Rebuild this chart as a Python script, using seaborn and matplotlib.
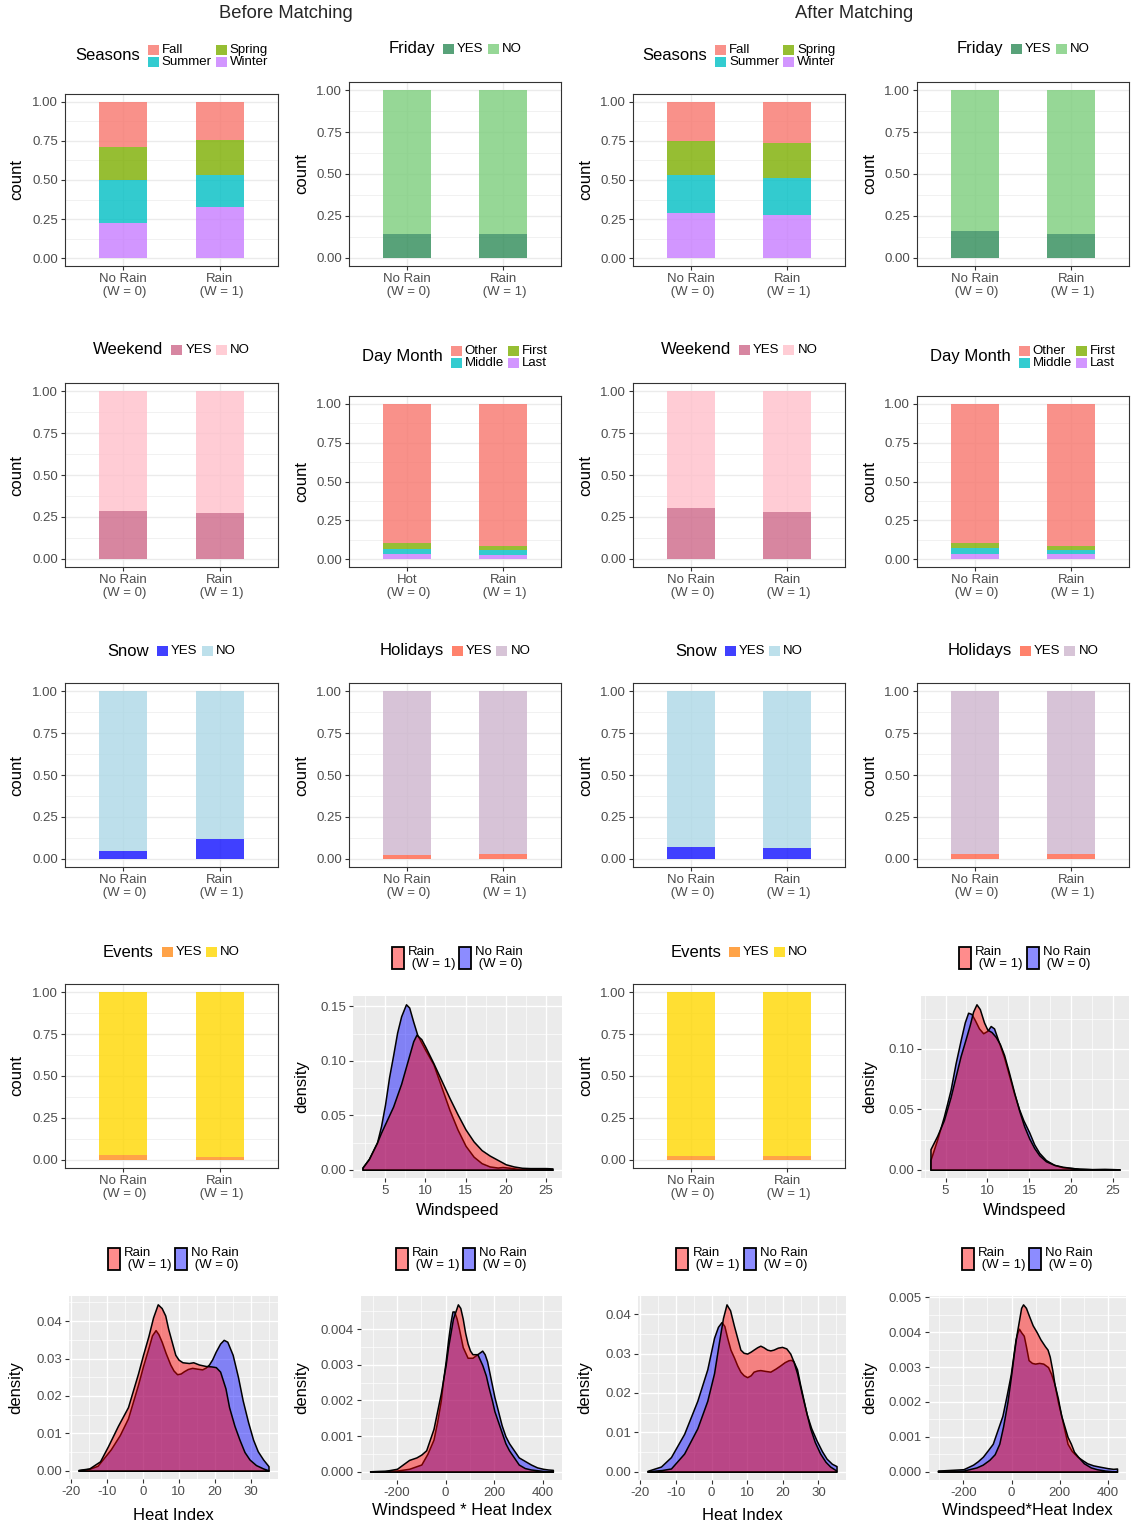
import numpy as np
import matplotlib
matplotlib.use("Agg")
import matplotlib.pyplot as plt
import matplotlib.colors as mcolors
from matplotlib.patches import Rectangle
from matplotlib.offsetbox import AnchoredOffsetbox, HPacker, VPacker, TextArea, DrawingArea
from matplotlib.ticker import FixedLocator, FormatStrFormatter
import seaborn as sns

sns.set_theme(style="white")
plt.rcParams["font.family"] = ["Liberation Sans", "DejaVu Sans"]

W, H, DPI = 1131, 1528, 100
PT = 72.0 / DPI  # points per pixel

# ---------------------------------------------------------------- data
groups = ["No Rain\n (W = 0)", "Rain\n (W = 1)"]
groups_hot = ["Hot\n (W = 0)", "Rain\n (W = 1)"]
yes_no = ["YES", "NO"]

season_levels = ["Fall", "Spring", "Summer", "Winter"]
seasons_before = [[0.289, 0.242], [0.210, 0.225], [0.274, 0.205], [0.227, 0.328]]
seasons_after = [[0.248, 0.261], [0.221, 0.229], [0.242, 0.234], [0.289, 0.276]]

friday_before = [[0.143, 0.143], [0.857, 0.857]]
friday_after = [[0.157, 0.142], [0.843, 0.858]]

weekend_before = [[0.287, 0.275], [0.713, 0.725]]
weekend_after = [[0.300, 0.277], [0.700, 0.723]]

daymonth_levels = ["Other", "First", "Middle", "Last"]
daymonth_before = [[0.897, 0.912], [0.034, 0.030], [0.035, 0.028], [0.034, 0.030]]
daymonth_after = [[0.895, 0.912], [0.034, 0.030], [0.035, 0.026], [0.036, 0.032]]

snow_before = [[0.048, 0.116], [0.952, 0.884]]
snow_after = [[0.068, 0.065], [0.932, 0.935]]

holidays_before = [[0.024, 0.027], [0.976, 0.973]]
holidays_after = [[0.025, 0.025], [0.975, 0.975]]

events_before = [[0.027, 0.018], [0.973, 0.982]]
events_after = [[0.022, 0.020], [0.978, 0.980]]

# density curves, Windspeed (before)
ws_b_x_rain = [2.2, 3.0, 4.0, 4.5, 5.0, 5.5, 6.0, 7.0, 8.0, 8.5, 8.9, 9.5, 10.0, 11.0, 12.0, 13.0,
               14.0, 15.0, 16.0, 17.0, 18.0, 19.0, 20.0, 21.0, 22.0, 23.0, 24.0, 25.0, 25.8]
ws_b_y_rain = [0.002, 0.010, 0.025, 0.034, 0.042, 0.050, 0.058, 0.079, 0.105, 0.118, 0.124, 0.120,
               0.113, 0.098, 0.082, 0.066, 0.051, 0.037, 0.026, 0.018, 0.013, 0.009, 0.005, 0.003,
               0.0018, 0.0015, 0.0015, 0.0015, 0.0012]
ws_b_x_norain = [2.2, 3.0, 4.0, 4.5, 5.0, 5.5, 6.0, 6.5, 7.0, 7.6, 8.0, 8.5, 9.0, 10.0, 11.0, 12.0,
                 13.0, 14.0, 15.0, 16.0, 17.0, 18.0, 19.0, 19.6, 20.5, 21.5, 22.5, 24.0, 25.8]
ws_b_y_norain = [0.002, 0.010, 0.025, 0.040, 0.060, 0.085, 0.105, 0.126, 0.141, 0.152, 0.149, 0.136,
                 0.124, 0.110, 0.097, 0.076, 0.055, 0.037, 0.022, 0.012, 0.006, 0.003, 0.002, 0.0025,
                 0.0018, 0.0008, 0.0003, 0.0001, 0.0]

# Windspeed (after)
ws_a_x_rain = [3.2, 4.0, 4.8, 5.6, 6.2, 6.8, 7.4, 7.9, 8.3, 8.7, 9.1, 9.6, 10.0, 10.5, 11.0, 11.5,
               12.0, 12.6, 13.2, 13.8, 14.4, 15.0, 15.6, 16.2, 17.0, 18.0, 19.0, 20.0, 21.0, 22.5,
               24.0, 25.0, 25.8]
ws_a_y_rain = [0.017, 0.028, 0.041, 0.060, 0.077, 0.094, 0.108, 0.120, 0.131, 0.137, 0.133, 0.122,
               0.116, 0.114, 0.110, 0.104, 0.095, 0.080, 0.064, 0.049, 0.036, 0.026, 0.018, 0.012,
               0.007, 0.004, 0.0025, 0.0015, 0.0008, 0.0004, 0.0004, 0.0004, 0.0003]
ws_a_x_norain = [3.2, 4.0, 4.8, 5.6, 6.2, 6.8, 7.3, 7.7, 8.1, 8.5, 9.0, 9.5, 10.0, 10.4, 10.8, 11.3,
                 12.0, 12.6, 13.2, 13.8, 14.3, 15.0, 15.6, 16.2, 17.0, 18.0, 19.0, 20.0, 21.0, 22.5,
                 24.0, 25.0, 25.8]
ws_a_y_norain = [0.008, 0.025, 0.044, 0.066, 0.088, 0.107, 0.122, 0.130, 0.129, 0.124, 0.117, 0.113,
                 0.115, 0.119, 0.117, 0.107, 0.093, 0.078, 0.063, 0.050, 0.041, 0.031, 0.021, 0.014,
                 0.008, 0.004, 0.002, 0.0015, 0.0008, 0.0005, 0.0007, 0.0005, 0.0003]

# Heat Index (before)
hi_b_x_rain = [-18, -15, -12, -9.8, -7, -4.2, -1.4, 0, 1.5, 2.8, 4.1, 5.2, 6.2, 7.0, 8.0, 9.0, 9.9,
               11.0, 12.8, 14.0, 15.6, 17.5, 19.0, 20.3, 21.5, 23.0, 24.0, 25.5, 26.9, 28.3, 29.7,
               31.5, 33.5, 35.0]
hi_b_y_rain = [0.0002, 0.0006, 0.0025, 0.0065, 0.012, 0.017, 0.026, 0.031, 0.036, 0.041, 0.0445,
               0.0435, 0.0415, 0.038, 0.0345, 0.031, 0.0297, 0.0290, 0.0288, 0.0290, 0.0284, 0.0280,
               0.0279, 0.0277, 0.0265, 0.022, 0.017, 0.012, 0.0083, 0.005, 0.003, 0.0015, 0.0006,
               0.0001]
hi_b_x_norain = [-18, -15, -12.7, -9, -6.5, -4.2, -1.4, 0, 1.5, 2.5, 3.5, 4.3, 5.2, 6.3, 7.6, 8.5,
                 9.5, 10.5, 11.4, 12.5, 13.7, 15.0, 16.5, 17.5, 18.4, 19.3, 20.3, 21.5, 22.5, 23.5,
                 25.0, 26.5, 27.8, 29.3, 30.7, 32.0, 33.5, 35.0]
hi_b_y_norain = [0.0001, 0.0005, 0.0013, 0.0057, 0.0095, 0.014, 0.023, 0.028, 0.0328, 0.0362,
                 0.0376, 0.0365, 0.0345, 0.0315, 0.0284, 0.0268, 0.0258, 0.0260, 0.0266, 0.0272,
                 0.0275, 0.0273, 0.0271, 0.0276, 0.0284, 0.0298, 0.0319, 0.0340, 0.0350, 0.0345,
                 0.031, 0.025, 0.0188, 0.013, 0.0083, 0.0052, 0.003, 0.0012]

# Heat Index (after)
hi_a_x_rain = [-18, -14, -11.4, -7.7, -4, -1.2, 0.7, 2.1, 3.2, 4.2, 5.2, 6.3, 7.2, 8.1, 9.0, 10.0,
               11.0, 11.8, 12.8, 13.7, 14.6, 15.6, 16.5, 17.4, 18.6, 19.8, 21.0, 22.1, 23.0, 24.0,
               25.8, 27.7, 29.0, 30.5, 32.0, 33.3, 35.0]
hi_a_y_rain = [0.0001, 0.0004, 0.0008, 0.0046, 0.011, 0.018, 0.025, 0.033, 0.039, 0.0425, 0.041,
               0.037, 0.034, 0.031, 0.0302, 0.0300, 0.0305, 0.0310, 0.0316, 0.0320, 0.0316, 0.0310,
               0.0308, 0.0310, 0.0315, 0.0317, 0.0313, 0.0300, 0.028, 0.025, 0.018, 0.011, 0.0075,
               0.0046, 0.0025, 0.0013, 0.0003]
hi_a_x_norain = [-18, -14.2, -11.4, -7.7, -4, -1.2, 0.7, 1.8, 2.8, 3.6, 4.4, 5.3, 6.3, 7.2, 8.1,
                 9.0, 10.0, 11.0, 11.8, 12.8, 13.7, 15.0, 16.5, 18.0, 19.3, 20.5, 21.6, 22.3, 23.0,
                 24.0, 24.9, 26.7, 28.0, 29.5, 31.0, 32.3, 33.8, 35.1]
hi_a_y_norain = [0.0002, 0.0013, 0.0037, 0.0096, 0.018, 0.026, 0.034, 0.0368, 0.038, 0.037, 0.034,
                 0.031, 0.029, 0.027, 0.0254, 0.0245, 0.0240, 0.0245, 0.0254, 0.0257, 0.0258, 0.0256,
                 0.0254, 0.0262, 0.0270, 0.0278, 0.0283, 0.0284, 0.028, 0.026, 0.022, 0.0146, 0.011,
                 0.0079, 0.0052, 0.0033, 0.0020, 0.0014]

# Windspeed * Heat Index (before)
wh_b_x_rain = [-310, -250, -200, -150, -120, -100, -80, -65, -50, -35, -20, -10, 0, 10, 20, 30, 40,
               50, 60, 70, 80, 90, 100, 110, 130, 150, 165, 175, 190, 200, 215, 230, 245, 260, 280,
               300, 325, 350, 400, 440]
wh_b_y_rain = [0.00001, 0.00002, 0.00008, 0.00033, 0.0004, 0.00048, 0.0006, 0.0009, 0.0012, 0.0017,
               0.0022, 0.0026, 0.0030, 0.0035, 0.0039, 0.0043, 0.0045, 0.0047, 0.0046, 0.0043,
               0.0039, 0.0036, 0.0034, 0.0033, 0.0033, 0.0030, 0.0027, 0.0024, 0.0020, 0.0017,
               0.0014, 0.0011, 0.0008, 0.0006, 0.0004, 0.0002, 0.0001, 0.00006, 0.00002, 0.0]
wh_b_x_norain = [-310, -250, -200, -150, -100, -75, -50, -35, -20, -10, 0, 10, 20, 28, 35, 45, 55,
                 70, 90, 110, 130, 150, 160, 170, 185, 200, 215, 230, 245, 260, 280, 300, 325, 350,
                 375, 400, 420, 440]
wh_b_y_norain = [0.00001, 0.00002, 0.00003, 0.00008, 0.0002, 0.0005, 0.0009, 0.0014, 0.0020,
                 0.0026, 0.0031, 0.0037, 0.0042, 0.0045, 0.0045, 0.0043, 0.0040, 0.0035, 0.0032,
                 0.0032, 0.0033, 0.0034, 0.0033, 0.0031, 0.0026, 0.0021, 0.0017, 0.0013, 0.0010,
                 0.0008, 0.0006, 0.0004, 0.0003, 0.0002, 0.00012, 0.00008, 0.00006, 0.00005]

# Windspeed * Heat Index (after)
wh_a_x_rain = [-306, -200, -146, -120, -92, -70, -51, -35, -17, -3, 10, 20, 30, 40, 48, 60, 71, 88,
               105, 120, 139, 150, 159, 170, 179, 193, 207, 220, 233, 247, 260, 280, 301, 330, 355,
               390, 423, 439]
wh_a_y_rain = [0.00002, 0.00003, 0.00012, 0.0002, 0.00034, 0.0005, 0.0008, 0.0013, 0.0020, 0.0027,
               0.0034, 0.0039, 0.0043, 0.0047, 0.0048, 0.0047, 0.0045, 0.0042, 0.0040, 0.0038,
               0.0036, 0.0035, 0.0033, 0.0029, 0.0025, 0.0021, 0.0016, 0.0013, 0.0010, 0.0008,
               0.00057, 0.0004, 0.00024, 0.00012, 0.00007, 0.00003, 0.00001, 0.0]
wh_a_x_norain = [-306, -200, -160, -140, -119, -100, -78, -58, -38, -20, -3, 7, 17, 25, 31, 40, 51,
                 60, 71, 85, 98, 115, 132, 152, 165, 179, 193, 207, 220, 233, 250, 274, 295, 315,
                 340, 369, 400, 423, 439]
wh_a_y_norain = [0.00003, 0.00007, 0.0002, 0.0003, 0.00043, 0.0006, 0.0008, 0.0012, 0.0016, 0.0022,
                 0.0028, 0.0033, 0.0038, 0.0040, 0.0041, 0.0040, 0.0039, 0.0036, 0.0032, 0.00312,
                 0.0031, 0.00312, 0.0031, 0.0030, 0.0028, 0.0025, 0.0020, 0.0016, 0.0012, 0.0008,
                 0.0006, 0.00043, 0.00033, 0.00024, 0.00018, 0.00014, 0.0001, 0.00008, 0.00009]

density_labels = ["Rain\n (W = 1)", "No Rain\n (W = 0)"]

# ---------------------------------------------------------------- styles
HUE4 = ["#F8766D", "#7CAE00", "#00BFC4", "#C77CFF"]
FRIDAY_COLORS = ["#2E8B57", "#7CCD7C"]
WEEKEND_COLORS = ["#CD6889", "#FFC0CB"]
SNOW_COLORS = ["#1010FF", "#ADD8E6"]
HOLIDAY_COLORS = ["#FF6347", "#CDB5CD"]
EVENT_COLORS = ["#FF8C1A", "#FFD700"]
BAR_ALPHA = 0.8
FILL_ALPHA = 0.45
TICK_GREY = "#4D4D4D"
LINE_GREY = "#333333"

fig = plt.figure(figsize=(W / DPI, H / DPI), dpi=DPI, facecolor="white")


def px_axes(l, t, r, b):
    return fig.add_axes([l / W, 1 - b / H, (r - l) / W, (b - t) / H])


def blend(color, alpha):
    r, g, b = mcolors.to_rgb(color)
    return (1 - alpha + alpha * r, 1 - alpha + alpha * g, 1 - alpha + alpha * b)


def key_area(color, w_px, h_px, edge="none", lw=0.0):
    da = DrawingArea(w_px * PT, h_px * PT, 0, 0)
    da.add_artist(Rectangle((0, 0), w_px * PT, h_px * PT, facecolor=color,
                            edgecolor=edge, linewidth=lw))
    return da


def legend_entry(label, color, kw, kh, edge="none", lw=0.0, gap=3):
    txt = TextArea(label, textprops=dict(fontsize=9.5, color="black", linespacing=1.0))
    return HPacker(children=[key_area(color, kw, kh, edge, lw), txt],
                   align="center", pad=0, sep=gap * PT)


def add_legend(ax, title, columns, center, col_gap=4, title_gap=8):
    cols = [VPacker(children=c, align="left", pad=0, sep=0) for c in columns]
    body = HPacker(children=cols, align="top", pad=0, sep=col_gap * PT)
    kids = [body]
    if title:
        kids = [TextArea(title, textprops=dict(fontsize=12, color="black")), body]
    box = HPacker(children=kids, align="center", pad=0, sep=title_gap * PT)
    anchored = AnchoredOffsetbox(loc="center", child=box, pad=0, borderpad=0, frameon=False,
                                 bbox_to_anchor=(center[0] / W, 1 - center[1] / H),
                                 bbox_transform=fig.transFigure)
    ax.add_artist(anchored)


def label_coords(ax, rect, ylab_x=None, xlab_y=None):
    l, t, r, b = rect
    if ylab_x is not None:
        ax.yaxis.set_label_coords((ylab_x - l) / (r - l), 0.5)
        ax.yaxis.label.set_va("center")
    if xlab_y is not None:
        ax.xaxis.set_label_coords(0.5, -(xlab_y - b) / (b - t))
        ax.xaxis.label.set_va("center")


def bar_panel(rect, cats, levels, values, colors, title, legend_y, ylab_x, two_rows=False,
              first_on_top=True):
    ax = px_axes(*rect)
    vals = np.asarray(values, dtype=float)
    if first_on_top:
        tops = np.cumsum(vals[::-1], axis=0)[::-1]
    else:
        tops = np.cumsum(vals, axis=0)
    bottoms = tops - vals
    for v, b0, c in zip(vals, bottoms, colors):
        sns.barplot(x=cats, y=v, bottom=b0, color=c, alpha=BAR_ALPHA, width=0.5, saturation=1,
                    edgecolor="none", linewidth=0, errorbar=None, ax=ax)
    ax.set_xlim(-0.6, 1.6)
    ax.set_ylim(-0.05, 1.05)
    ax.set_facecolor("white")
    ax.set_axisbelow(True)
    ax.yaxis.set_major_locator(FixedLocator([0, 0.25, 0.5, 0.75, 1.0]))
    ax.yaxis.set_minor_locator(FixedLocator([0.125, 0.375, 0.625, 0.875]))
    ax.yaxis.set_major_formatter(FormatStrFormatter("%.2f"))
    ax.grid(True, which="major", color="#EBEBEB", linewidth=1.0)
    ax.grid(True, which="minor", axis="y", color="#EBEBEB", linewidth=0.5)
    for s in ax.spines.values():
        s.set_visible(True)
        s.set_color(LINE_GREY)
        s.set_linewidth(0.8)
    ax.tick_params(which="major", bottom=True, left=True, length=3, width=0.8, color=LINE_GREY,
                   labelsize=9.5, labelcolor=TICK_GREY, pad=2)
    ax.tick_params(which="minor", length=0)
    for lab in ax.get_xticklabels():
        lab.set_linespacing(1.1)
    ax.set_xlabel("")
    ax.set_ylabel("count", fontsize=12, color="black")
    label_coords(ax, rect, ylab_x=ylab_x)
    cx = (rect[0] + rect[2]) / 2
    handles = [legend_entry(lv, blend(c, BAR_ALPHA), 11, 10) for lv, c in zip(levels, colors)]
    if two_rows:
        columns = [[handles[0], handles[2]], [handles[1], handles[3]]]
    else:
        columns = [[h] for h in handles]
    add_legend(ax, title, columns, (cx, legend_y))
    return ax


def yes_no_panel(rect, values, colors, title, legend_y, ylab_x):
    return bar_panel(rect, groups, yes_no, values, colors, title, legend_y, ylab_x,
                     two_rows=False, first_on_top=False)


def density_panel(rect, xr, yr, xn, yn, xlabel, xmajor, xminor, ymajor, yminor, yfmt,
                  ylab_x, xlab_y, legend_y):
    ax = px_axes(*rect)
    ax.set_facecolor("#EBEBEB")
    for s in ax.spines.values():
        s.set_visible(False)
    ax.fill_between(xn, yn, 0, facecolor=mcolors.to_rgba("blue", FILL_ALPHA),
                    edgecolor="black", linewidth=1.1, zorder=3)
    ax.fill_between(xr, yr, 0, facecolor=mcolors.to_rgba("red", FILL_ALPHA),
                    edgecolor="black", linewidth=1.1, zorder=4)
    x_lo, x_hi = min(min(xr), min(xn)), max(max(xr), max(xn))
    span = x_hi - x_lo
    ax.set_xlim(x_lo - 0.05 * span, x_hi + 0.05 * span)
    y_hi = max(max(yr), max(yn))
    ax.set_ylim(-0.05 * y_hi, 1.05 * y_hi)
    ax.set_axisbelow(True)
    ax.xaxis.set_major_locator(FixedLocator(xmajor))
    ax.xaxis.set_minor_locator(FixedLocator(xminor))
    ax.yaxis.set_major_locator(FixedLocator(ymajor))
    ax.yaxis.set_minor_locator(FixedLocator(yminor))
    ax.xaxis.set_major_formatter(FormatStrFormatter("%d"))
    ax.yaxis.set_major_formatter(FormatStrFormatter(yfmt))
    ax.grid(True, which="major", color="white", linewidth=1.0)
    ax.grid(True, which="minor", color="white", linewidth=0.5)
    ax.tick_params(which="major", bottom=True, left=True, length=3, width=0.8, color=LINE_GREY,
                   labelsize=9.5, labelcolor=TICK_GREY, pad=2)
    ax.tick_params(which="minor", length=0)
    ax.set_xlabel(xlabel, fontsize=12, color="black")
    ax.set_ylabel("density", fontsize=12, color="black")
    label_coords(ax, rect, ylab_x=ylab_x, xlab_y=xlab_y)
    cx = (rect[0] + rect[2]) / 2
    entries = [[legend_entry(density_labels[0], blend("red", FILL_ALPHA), 12, 22,
                             edge="black", lw=1.3, gap=4)],
               [legend_entry(density_labels[1], blend("blue", FILL_ALPHA), 12, 22,
                             edge="black", lw=1.3, gap=4)]]
    add_legend(ax, None, entries, (cx, legend_y), col_gap=4)
    return ax


# column x-extents
C1, C2, C3, C4 = (65, 278), (349, 561), (633, 845), (917, 1129)
YL = {1: 17, 2: 302, 3: 586, 4: 870}

# row 1
bar_panel((C1[0], 94, C1[1], 266), groups, season_levels, seasons_before, HUE4, "Seasons", 56, YL[1], True)
yes_no_panel((C2[0], 82, C2[1], 266), friday_before, FRIDAY_COLORS, "Friday", 49, YL[2])
bar_panel((C3[0], 94, C3[1], 266), groups, season_levels, seasons_after, HUE4, "Seasons", 56, YL[3], True)
yes_no_panel((C4[0], 82, C4[1], 266), friday_after, FRIDAY_COLORS, "Friday", 49, YL[4])

# row 2
yes_no_panel((C1[0], 383, C1[1], 567), weekend_before, WEEKEND_COLORS, "Weekend", 350, YL[1])
bar_panel((C2[0], 396, C2[1], 567), groups_hot, daymonth_levels, daymonth_before, HUE4, "Day Month", 357, YL[2], True)
yes_no_panel((C3[0], 383, C3[1], 567), weekend_after, WEEKEND_COLORS, "Weekend", 350, YL[3])
bar_panel((C4[0], 396, C4[1], 567), groups, daymonth_levels, daymonth_after, HUE4, "Day Month", 357, YL[4], True)

# row 3
yes_no_panel((C1[0], 683, C1[1], 867), snow_before, SNOW_COLORS, "Snow", 651, YL[1])
yes_no_panel((C2[0], 683, C2[1], 867), holidays_before, HOLIDAY_COLORS, "Holidays", 651, YL[2])
yes_no_panel((C3[0], 683, C3[1], 867), snow_after, SNOW_COLORS, "Snow", 651, YL[3])
yes_no_panel((C4[0], 683, C4[1], 867), holidays_after, HOLIDAY_COLORS, "Holidays", 651, YL[4])

# row 4
yes_no_panel((C1[0], 984, C1[1], 1168), events_before, EVENT_COLORS, "Events", 952, YL[1])
yes_no_panel((C3[0], 984, C3[1], 1168), events_after, EVENT_COLORS, "Events", 952, YL[3])

ws_major = [5, 10, 15, 20, 25]
ws_minor = [2.5, 7.5, 12.5, 17.5, 22.5, 27.5]
density_panel((353, 996, 562, 1178), ws_b_x_rain, ws_b_y_rain, ws_b_x_norain, ws_b_y_norain,
              "Windspeed", ws_major, ws_minor, [0, 0.05, 0.10, 0.15], [0.025, 0.075, 0.125],
              "%.2f", YL[2], 1211, 958)
density_panel((921, 996, 1129, 1178), ws_a_x_rain, ws_a_y_rain, ws_a_x_norain, ws_a_y_norain,
              "Windspeed", ws_major, ws_minor, [0, 0.05, 0.10], [0.025, 0.075, 0.125],
              "%.2f", YL[4], 1211, 958)

# row 5
hi_major = [-20, -10, 0, 10, 20, 30]
hi_minor = [-25, -15, -5, 5, 15, 25, 35]
wh_major = [-200, 0, 200, 400]
wh_minor = [-300, -100, 100, 300]
density_panel((69, 1296, 278, 1479), hi_b_x_rain, hi_b_y_rain, hi_b_x_norain, hi_b_y_norain,
              "Heat Index", hi_major, hi_minor, [0, 0.01, 0.02, 0.03, 0.04],
              [0.005, 0.015, 0.025, 0.035, 0.045], "%.2f", 16, 1515, 1259)
density_panel((361, 1296, 562, 1480), wh_b_x_rain, wh_b_y_rain, wh_b_x_norain, wh_b_y_norain,
              "Windspeed * Heat Index", wh_major, wh_minor, [0, 0.001, 0.002, 0.003, 0.004],
              [0.0005, 0.0015, 0.0025, 0.0035, 0.0045], "%.3f", YL[2], 1511, 1259)
density_panel((638, 1296, 846, 1480), hi_a_x_rain, hi_a_y_rain, hi_a_x_norain, hi_a_y_norain,
              "Heat Index", hi_major, hi_minor, [0, 0.01, 0.02, 0.03, 0.04],
              [0.005, 0.015, 0.025, 0.035, 0.045], "%.2f", 585, 1515, 1259)
density_panel((929, 1296, 1126, 1480), wh_a_x_rain, wh_a_y_rain, wh_a_x_norain, wh_a_y_norain,
              "Windspeed*Heat Index", wh_major, wh_minor, [0, 0.001, 0.002, 0.003, 0.004, 0.005],
              [0.0005, 0.0015, 0.0025, 0.0035, 0.0045], "%.3f", YL[4], 1511, 1259)

fig.text(286 / W, 1 - 14 / H, "Before Matching", fontsize=13.2, ha="center", va="center")
fig.text(854 / W, 1 - 14 / H, "After Matching", fontsize=13.2, ha="center", va="center")

fig.savefig("out.png", dpi=DPI, facecolor="white")
